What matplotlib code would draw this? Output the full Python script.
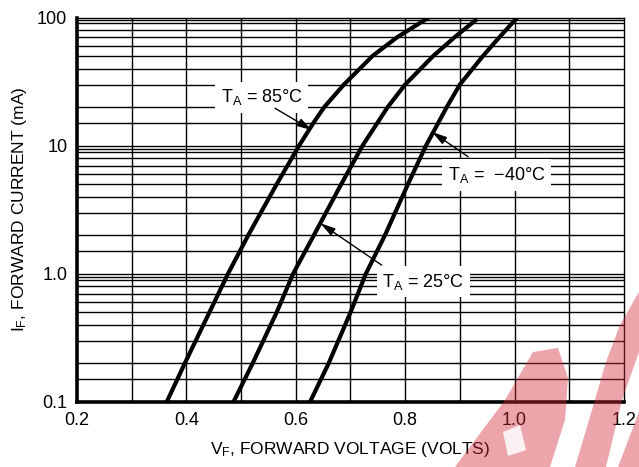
import matplotlib
matplotlib.use("Agg")
import matplotlib.pyplot as plt
from matplotlib.patches import Polygon
import numpy as np

plt.rcParams['font.family'] = ['Liberation Sans', 'DejaVu Sans']
plt.rcParams['mathtext.fontset'] = 'custom'
plt.rcParams['mathtext.rm'] = 'Liberation Sans'
plt.rcParams['mathtext.it'] = 'Liberation Sans'

# forward voltage (V) vs forward current (mA)
i_85 = [0.1, 0.2, 0.5, 1.0, 2.0, 5.0, 10, 15, 20, 30, 50, 70, 100]
v_85 = [0.364, 0.397, 0.442, 0.476, 0.513, 0.565, 0.606, 0.632, 0.652, 0.688, 0.740, 0.785, 0.843]

i_25 = [0.1, 0.2, 0.5, 1.0, 2.0, 5.0, 10, 20, 30, 50, 70, 97]
v_25 = [0.486, 0.521, 0.565, 0.595, 0.633, 0.683, 0.722, 0.768, 0.800, 0.851, 0.890, 0.931]

i_m40 = [0.1, 0.2, 0.5, 1.0, 2.0, 5.0, 10, 20, 30, 50, 70, 100]
v_m40 = [0.626, 0.660, 0.700, 0.728, 0.763, 0.805, 0.838, 0.876, 0.900, 0.942, 0.972, 1.005]

x_ticks = [0.2, 0.4, 0.6, 0.8, 1.0, 1.2]
x_labels = ['0.2', '0.4', '0.6', '0.8', '1.0', '1.2']
y_ticks = [0.1, 1.0, 10, 100]
y_labels = ['0.1', '1.0', '10', '100']
y_minor = [m * d for d in (0.1, 1, 10) for m in (1.5, 2, 3, 4, 5, 6, 7, 8, 9, 9.5)]

fig = plt.figure(figsize=(6.39, 4.67), dpi=100)
ax = fig.add_axes([0.1205, 0.1392, 0.856, 0.8233])
ax.set_yscale('log')
ax.set_xlim(0.2, 1.2)
ax.set_ylim(0.1, 100)

# grid: every 0.1 V, log minor lines on y
for v in np.arange(0.3, 1.2, 0.1):
    ax.axvline(v, color='black', lw=1.0, zorder=1)
for i in y_minor + y_ticks[1:-1]:
    ax.axhline(i, color='black', lw=1.0, zorder=1)

for v, i in ((v_85, i_85), (v_25, i_25), (v_m40, i_m40)):
    ax.plot(v, i, color='black', lw=3, zorder=3, solid_capstyle='butt', solid_joinstyle='round')

ax.set_xticks(x_ticks)
ax.set_xticklabels(x_labels)
ax.set_yticks(y_ticks)
ax.set_yticklabels(y_labels)
ax.set_yticks([], minor=True)
ax.tick_params(length=0, labelsize=13, pad=7)

for s in ('left', 'bottom'):
    ax.spines[s].set_linewidth(2.6)
for s in ('top', 'right'):
    ax.spines[s].set_linewidth(1.0)

ax.set_xlabel(r'V$_\mathrm{F}$, FORWARD VOLTAGE (VOLTS)', fontsize=12.5, labelpad=8)
ax.set_ylabel(r'I$_\mathrm{F}$, FORWARD CURRENT (mA)', fontsize=12.5, labelpad=6)

box = dict(facecolor='white', edgecolor='none', pad=4)
arrow = dict(arrowstyle='-|>,head_length=0.9,head_width=0.25', color='black', lw=1.0, shrinkA=0, shrinkB=0)

ax.text(0.538, 23.9, r'T$_\mathrm{A}$ = 85°C', fontsize=13, ha='center', va='center', bbox=box, zorder=4)
ax.annotate('', xy=(0.630, 13.2), xytext=(0.562, 19.6), arrowprops=arrow, zorder=4)

ax.text(0.967, 5.9, r'T$_\mathrm{A}$ =  −40°C', fontsize=13, ha='center', va='center', bbox=box, zorder=4)
ax.annotate('', xy=(0.849, 12.8), xytext=(0.915, 8.2), arrowprops=arrow, zorder=4)

ax.text(0.833, 0.867, r'T$_\mathrm{A}$ = 25°C', fontsize=13, ha='center', va='center', bbox=box, zorder=4)
ax.annotate('', xy=(0.645, 2.48), xytext=(0.757, 1.17), arrowprops=arrow, zorder=4)

# faint red watermark in the lower right corner
W, H = 639.0, 467.0
def px(pts):
    return [(x / W, 1 - y / H) for x, y in pts]
shapes = [
    [(455, 467), (505, 400), (533, 352), (558, 348), (568, 378), (565, 420), (550, 467)],
    [(575, 467), (592, 410), (606, 362), (620, 325), (639, 292), (639, 352), (622, 400), (606, 467)],
    [(618, 467), (639, 412), (639, 467)],
]
for pts in shapes:
    fig.patches.append(Polygon(px(pts), closed=True, transform=fig.transFigure,
                               facecolor='#d42a35', edgecolor='none', alpha=0.42, zorder=10))
fig.patches.append(Polygon(px([(503, 432), (520, 425), (526, 450), (508, 456)]), closed=True,
                           transform=fig.transFigure, facecolor='white', edgecolor='none',
                           alpha=0.85, zorder=11))

fig.savefig('out.png', dpi=100)
